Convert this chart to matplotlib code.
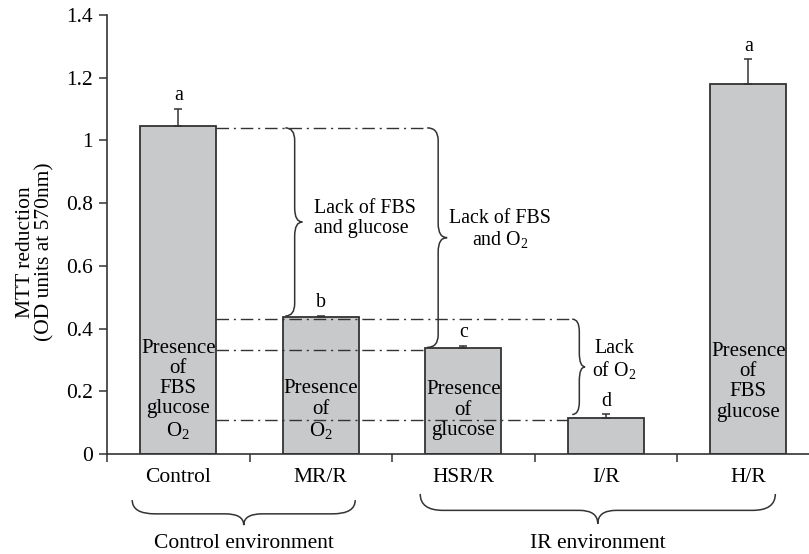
import matplotlib
matplotlib.use("Agg")
import matplotlib.pyplot as plt
from matplotlib.path import Path
from matplotlib.patches import PathPatch
import numpy as np

plt.rcParams['font.family'] = ['Liberation Serif', 'DejaVu Serif']
plt.rcParams['mathtext.fontset'] = 'custom'
plt.rcParams['mathtext.rm'] = 'Liberation Serif'
plt.rcParams['mathtext.default'] = 'rm'

# data
groups = ['Control', 'MR/R', 'HSR/R', 'I/R', 'H/R']
mtt = [1.046, 0.437, 0.337, 0.116, 1.180]
sem = [0.054, 0.003, 0.008, 0.011, 0.079]
letters = ['a', 'b', 'c', 'd', 'a']
bar_notes = ['Presence\nof\nFBS\nglucose\nO$_2$', 'Presence\nof\nO$_2$',
             'Presence\nof\nglucose', '', 'Presence\nof\nFBS\nglucose']
note_y = [0.205, 0.14, 0.14, 0.0, 0.23]

ink = '#333333'
fs_note = 14.3
fs_bar = 15
fs_tick = 15.5

fig = plt.figure(figsize=(8.09, 5.54), dpi=100)
ax = fig.add_axes([107/809, 100/554, 702/809, 439/554])

x = np.arange(len(groups))
w = 0.535
ax.bar(x, mtt, width=w, color='#c8c9cb', edgecolor=ink, linewidth=1.3, zorder=2)
ax.errorbar(x, mtt, yerr=[np.zeros(len(sem)), sem], fmt='none', ecolor=ink,
            elinewidth=1.1, capsize=3, capthick=1.1, zorder=3)

for i in range(len(groups)):
    ax.text(x[i], mtt[i] + sem[i] + 0.042, letters[i], ha='center', va='center', fontsize=fs_note)
    if bar_notes[i]:
        ax.text(x[i], note_y[i], bar_notes[i], ha='center', va='center',
                fontsize=fs_bar, linespacing=1.08, zorder=4)

ax.set_xlim(-0.5, -0.5 + 702/142.5)
ax.set_ylim(0, 1.4)
ax.set_yticks(np.arange(0, 1.41, 0.2))
ax.set_yticklabels(['0', '0.2', '0.4', '0.6', '0.8', '1', '1.2', '1.4'])
ax.set_xticks(np.arange(-0.5, 4.0, 1.0))
ax.set_xticklabels([])
ax.set_xticks(x, minor=True)
ax.set_xticklabels(groups, minor=True)
ax.tick_params(axis='x', which='minor', length=0, pad=10, labelsize=fs_tick)
ax.tick_params(axis='x', which='major', length=6, direction='out', color=ink, width=1.1)
ax.tick_params(axis='y', length=6, direction='out', color=ink, width=1.1, labelsize=fs_tick, pad=4)
for s in ['top', 'right']:
    ax.spines[s].set_visible(False)
for s in ['left', 'bottom']:
    ax.spines[s].set_color(ink)
    ax.spines[s].set_linewidth(1.2)

fig.text(35/809, 1 - 252/554, 'MTT reduction\n(OD units at 570nm)', rotation=90,
         ha='center', va='center', fontsize=fs_tick, linespacing=1.05)

# dash-dot guide lines
dd = (0, (9, 3.5, 1.5, 3.5))
right_edge = x[0] + w/2
ax.hlines(mtt[0] - 0.006, right_edge, 1.747, colors=ink, linestyles=[dd], linewidth=1, zorder=3)
ax.hlines(mtt[1] - 0.007, right_edge, 2.765, colors=ink, linestyles=[dd], linewidth=1, zorder=3)
ax.hlines(mtt[2] - 0.004, right_edge, x[2] - w/2, colors=ink, linestyles=[dd], linewidth=1, zorder=3)
ax.hlines(mtt[3] - 0.008, right_edge, x[3] - w/2, colors=ink, linestyles=[dd], linewidth=1, zorder=3)


def brace_path(a, b, base, depth, r, rt, vertical):
    # brace running from a to b along the main axis, bulging by depth from base
    m = (a + b) / 2
    st = base + depth * 0.55
    tip = base + depth
    pts = [(a, base), (a, st), (a + r, st),
           (m - rt, st), (m, st), (m, tip),
           (m, st), (m + rt, st),
           (b - r, st), (b, st), (b, base)]
    codes = [Path.MOVETO, Path.CURVE3, Path.CURVE3,
             Path.LINETO, Path.CURVE3, Path.CURVE3,
             Path.CURVE3, Path.CURVE3,
             Path.LINETO, Path.CURVE3, Path.CURVE3]
    if vertical:
        pts = [(q, p) for p, q in pts]
    return Path(pts, codes)


def vbrace(xb, y0, y1, depth):
    p = brace_path(y1, y0, xb, depth, 0.04, 0.045, True)
    ax.add_patch(PathPatch(p, fill=False, edgecolor=ink, linewidth=1.1, zorder=3))


vbrace(0.751, mtt[0] - 0.006, mtt[1] + 0.003, 0.12)
vbrace(1.747, mtt[0] - 0.006, mtt[2] + 0.003, 0.14)
vbrace(2.765, mtt[1] - 0.007, mtt[3] + 0.01, 0.09)

ax.text(0.95, 0.75, 'Lack of FBS\nand glucose', ha='left', va='center', fontsize=fs_note, linespacing=1.05)
ax.text(2.26, 0.715, 'Lack of FBS\nand O$_2$', ha='center', va='center', fontsize=fs_note, linespacing=1.05)
ax.text(3.06, 0.30, 'Lack\nof O$_2$', ha='center', va='center', fontsize=fs_note, linespacing=1.05)

# group braces under the axis
tr = ax.get_xaxis_transform()
for a, b, top, tip, label in [(-0.323, 1.242, -0.105, -0.162, 'Control environment'),
                              (1.698, 4.19, -0.091, -0.159, 'IR environment')]:
    p = brace_path(a, b, top, tip - top, 0.16, 0.13, False)
    ax.add_patch(PathPatch(p, fill=False, edgecolor=ink, linewidth=1.1,
                           transform=tr, clip_on=False))
    ax.text((a + b) / 2, -0.203, label, transform=tr, ha='center', va='center', fontsize=fs_tick)

fig.savefig('out.png', dpi=100)
